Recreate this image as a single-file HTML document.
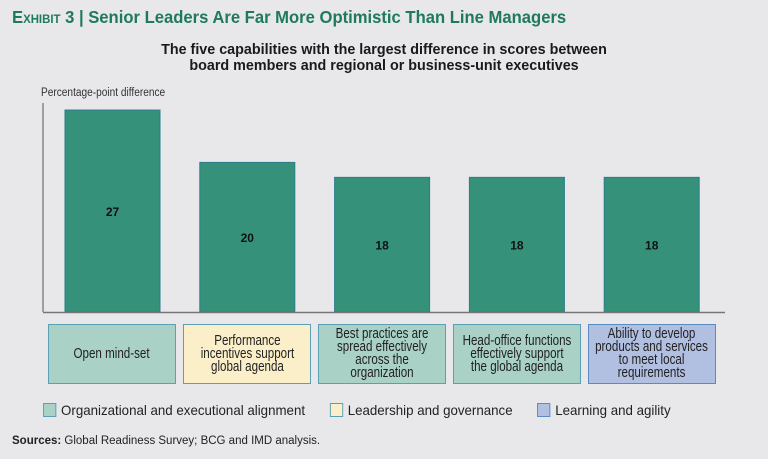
<!DOCTYPE html>
<html><head><meta charset="utf-8">
<style>
body{margin:0;background:#e8e8ea;font-family:"Liberation Sans",sans-serif;}
#wrap{position:relative;width:768px;height:459px;overflow:hidden;background:#e8e8ea;}
.t{position:absolute;white-space:nowrap;}
</style></head><body>
<div id="wrap">
<div class="t" style="left:12px;top:7px;font-size:17.5px;color:#1f7a5c;font-weight:bold;transform:scaleX(0.95);transform-origin:left top;"><span style="font-variant:small-caps;">Exhibit 3</span> | Senior Leaders Are Far More Optimistic Than Line Managers</div>
<div class="t" style="left:0;width:768px;text-align:center;top:42px;font-size:15px;font-weight:bold;color:#1a1a1a;line-height:16px;transform:scaleX(0.955);transform-origin:384px 0;">The five capabilities with the largest difference in scores between<br>board members and regional or business-unit executives</div>
<div class="t" style="left:41px;top:87px;font-size:11.5px;color:#333;transform:scaleX(0.88);transform-origin:left top;">Percentage-point difference</div>
<svg id="chart" width="768" height="459" style="position:absolute;left:0;top:0"></svg>
<div id="boxes"></div>
<div class="t" style="left:43px;top:402px;font-size:14px;color:#222;transform:scaleX(0.95);transform-origin:left top;">
<span><span style="display:inline-block;width:12px;height:12px;background:#a9d1c5;border:1px solid #5a9fb5;vertical-align:-2px;margin-right:5px"></span>Organizational and executional alignment</span>
<span style="margin-left:22px"><span style="display:inline-block;width:12px;height:12px;background:#fbefc9;border:1px solid #5a9fb5;vertical-align:-2px;margin-right:5px"></span>Leadership and governance</span>
<span style="margin-left:22px"><span style="display:inline-block;width:12px;height:12px;background:#b1bfe1;border:1px solid #5a8cc0;vertical-align:-2px;margin-right:5px"></span>Learning and agility</span>
</div>
<div class="t" style="left:12px;top:435px;font-size:11.5px;color:#222;"><b>Sources:</b> Global Readiness Survey; BCG and IMD analysis.</div>
</div>
<script>
const categories=["Open mind-set","Performance<br>incentives support<br>global agenda","Best practices are<br>spread effectively<br>across the<br>organization","Head-office functions<br>effectively support<br>the global agenda","Ability to develop<br>products and services<br>to meet local<br>requirements"];
const values=[27,20,18,18,18];
const groups=["align","lead","align","align","learn"];
const ns="http://www.w3.org/2000/svg";
const svg=document.getElementById('chart');
const baseY=312, pxPerUnit=7.48, x0=65, step=134.8, bw=95;
function y(v){return baseY-v*pxPerUnit;}
function xb(i){return x0+i*step;}
function mk(t,a){const e=document.createElementNS(ns,t);for(const k in a)e.setAttribute(k,a[k]);svg.appendChild(e);return e;}
const ax=mk('line',{x1:43,y1:103,x2:43,y2:baseY,stroke:'#555','stroke-width':1});


values.forEach((v,i)=>{
 const r=mk('rect',{x:xb(i),y:y(v),width:bw,height:baseY-y(v),fill:'#35917a',stroke:'#2b7d8c','stroke-width':1});
 
 
 const t=mk('text',{x:xb(i)+bw/2,y:(y(v)+baseY)/2+5,'text-anchor':'middle','font-size':'12','font-weight':'bold',fill:'#111','font-family':'Liberation Sans, sans-serif'});
 t.textContent=v;
 
 
});
const bl=mk('line',{x1:43,y1:baseY+0.5,x2:725,y2:baseY+0.5,stroke:'#777','stroke-width':1.5});


const fills={align:['#a9d1c5','#5a9fb5'],lead:['#fbefc9','#5a9fb5'],learn:['#b1bfe1','#5a8cc0']};
const bx=document.getElementById('boxes');
categories.forEach((c,i)=>{
 const d=document.createElement('div');
 
 
 const f=fills[groups[i]];
 d.style.cssText=`position:absolute;left:${48+i*135}px;top:324px;width:126px;height:58px;background:${f[0]};border:1.5px solid ${f[1]};display:flex;align-items:center;justify-content:center;text-align:center;color:#222;`;
 const s=document.createElement('span');
 s.style.cssText='display:inline-block;white-space:nowrap;font-size:14.5px;line-height:13px;transform:scaleX(0.8);';
 s.innerHTML=c;
 d.appendChild(s);
 bx.appendChild(d);
});
</script>
</body></html>
